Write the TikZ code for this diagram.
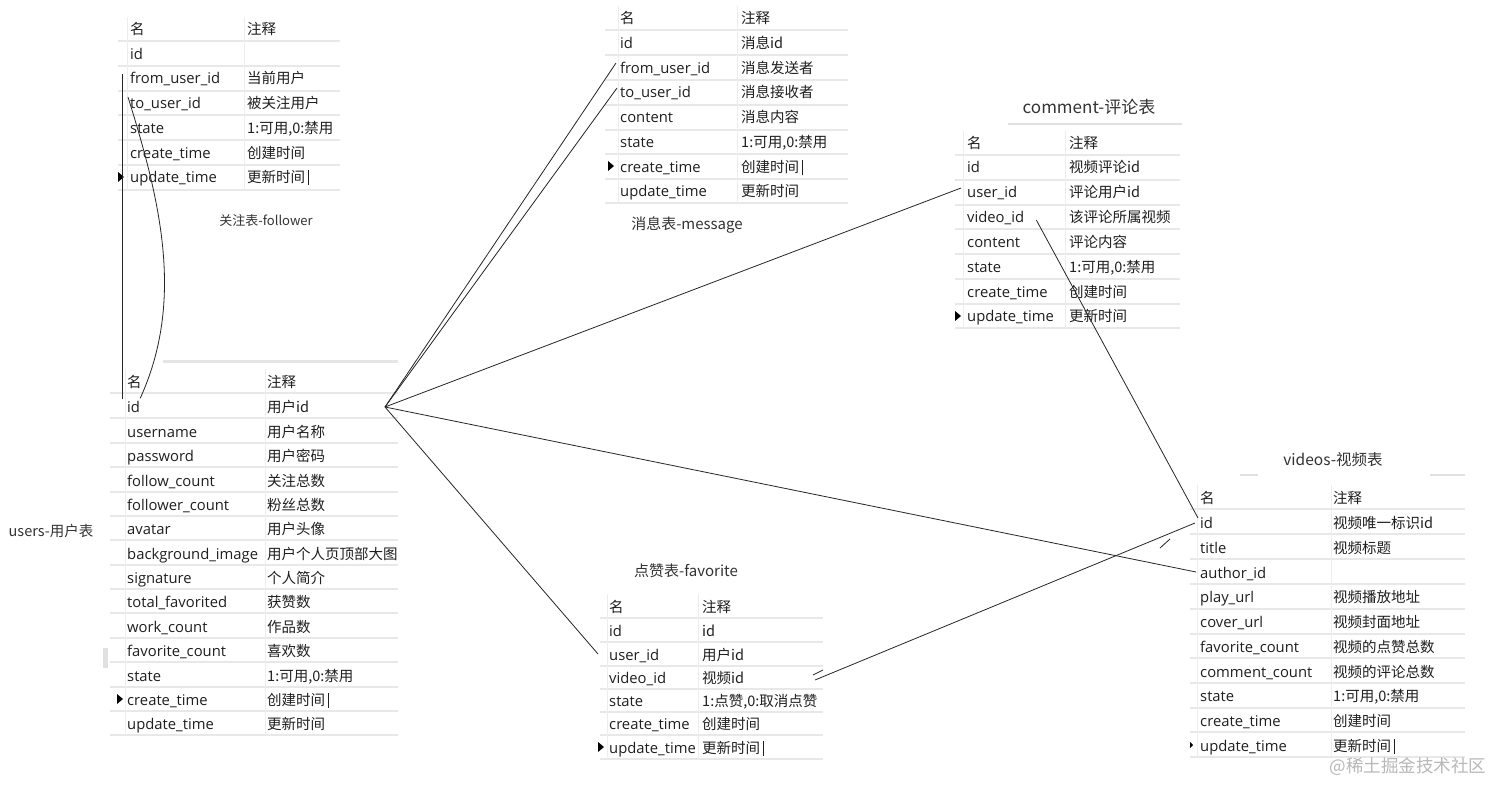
\documentclass[tikz,border=0pt]{standalone}
\usepackage{fontspec}
\setmainfont{Noto Sans CJK SC}
\newfontfamily\latinf{Open Sans}
\newcommand\tcur{\,\rule[-2.5pt]{0.9pt}{15pt}}
\begin{document}
\begin{tikzpicture}[x=1pt,y=-1pt,
  cell/.style={anchor=west,inner sep=0pt,text height=12.5pt,text depth=0.5pt,font=\fontsize{14.5}{16}\selectfont,text=black!88},
  fld/.style={cell,font=\latinf\fontsize{14.8}{16}\selectfont},
  ttl/.style={inner sep=0pt,text=black!80},
  rowline/.style={draw=black!9,line width=1.2pt},
  colline/.style={draw=black!7,line width=1pt},
  link/.style={draw=black!85,line width=0.8pt}]
\fill[white] (0,0) rectangle (1512,799);
\useasboundingbox (0,0) rectangle (1512,799);

\foreach \y in {41,66,91,115,140,165,190} \draw[rowline] (118,\y) -- (340,\y);
\draw[colline] (127,17) -- (127,190);
\draw[colline] (244,17) -- (244,190);
\foreach \y in {30,55,80,105,130,154,179,203} \draw[rowline] (605,\y) -- (848,\y);
\draw[colline] (618,6) -- (618,203);
\draw[colline] (737,6) -- (737,203);
\foreach \y in {155,180,205,229,254,279,304,328} \draw[rowline] (955,\y) -- (1180,\y);
\draw[colline] (963,131) -- (963,328);
\draw[colline] (1065,131) -- (1065,328);
\foreach \y in {393,418,443,467,492,516,540,565,589,613,638,662,687,711,735} \draw[rowline] (110,\y) -- (398,\y);
\draw[colline] (125,369) -- (125,735);
\draw[colline] (265,369) -- (265,735);
\foreach \y in {618,642,666,689,712,735,759} \draw[rowline] (600,\y) -- (823,\y);
\draw[colline] (607,594) -- (607,759);
\draw[colline] (698,594) -- (698,759);
\foreach \y in {509,534,559,584,609,634,658,683,708,732,757} \draw[rowline] (1190,\y) -- (1465,\y);
\draw[colline] (1197,485) -- (1197,757);
\draw[colline] (1331,485) -- (1331,757);

\draw[black!12,line width=2pt] (1008,124) -- (1182,124);
\draw[black!10,line width=3pt] (163,362) -- (398,362);
\draw[black!12,line width=2pt] (1240,475) -- (1258,475);
\draw[black!12,line width=2pt] (1430,475) -- (1465,475);
\fill[black!12] (103,648) rectangle (108,668);

\node[cell] (f0n) at (130,29) {名};
\node[cell] (f0c) at (247,29) {注释};
\node[fld] (f1n) at (130,54) {id};
\node[fld] (f2n) at (130,78) {from\_user\_id};
\node[cell] (f2c) at (247,78) {当前用户};
\node[fld] (f3n) at (130,103) {to\_user\_id};
\node[cell] (f3c) at (247,103) {被关注用户};
\node[fld] (f4n) at (130,128) {state};
\node[cell] (f4c) at (247,128) {1:可用,0:禁用};
\node[fld] (f5n) at (130,153) {create\_time};
\node[cell] (f5c) at (247,153) {创建时间};
\node[fld] (f6n) at (130,177) {update\_time};
\node[cell] (f6c) at (247,177) {更新时间\tcur};
\node[ttl,font=\fontsize{13}{15}\selectfont] (ftitle) at (266,221) {关注表-follower};

\node[cell] (m0n) at (620,18) {名};
\node[cell] (m0c) at (741,18) {注释};
\node[fld] (m1n) at (620,43) {id};
\node[cell] (m1c) at (741,43) {消息id};
\node[fld] (m2n) at (620,68) {from\_user\_id};
\node[cell] (m2c) at (741,68) {消息发送者};
\node[fld] (m3n) at (620,92) {to\_user\_id};
\node[cell] (m3c) at (741,92) {消息接收者};
\node[fld] (m4n) at (620,117) {content};
\node[cell] (m4c) at (741,117) {消息内容};
\node[fld] (m5n) at (620,142) {state};
\node[cell] (m5c) at (741,142) {1:可用,0:禁用};
\node[fld] (m6n) at (620,167) {create\_time};
\node[cell] (m6c) at (741,167) {创建时间\tcur};
\node[fld] (m7n) at (620,191) {update\_time};
\node[cell] (m7c) at (741,191) {更新时间};
\node[ttl,font=\fontsize{15}{17}\selectfont] (mtitle) at (687,225) {消息表-message};

\node[ttl,font=\fontsize{17}{19}\selectfont] (ctitle) at (1089,107) {comment-评论表};
\node[cell] (c0n) at (967,143) {名};
\node[cell] (c0c) at (1069,143) {注释};
\node[fld] (c1n) at (967,167) {id};
\node[cell] (c1c) at (1069,167) {视频评论id};
\node[fld] (c2n) at (967,192) {user\_id};
\node[cell] (c2c) at (1069,192) {评论用户id};
\node[fld] (c3n) at (967,217) {video\_id};
\node[cell] (c3c) at (1069,217) {该评论所属视频};
\node[fld] (c4n) at (967,242) {content};
\node[cell] (c4c) at (1069,242) {评论内容};
\node[fld] (c5n) at (967,267) {state};
\node[cell] (c5c) at (1069,267) {1:可用,0:禁用};
\node[fld] (c6n) at (967,292) {create\_time};
\node[cell] (c6c) at (1069,292) {创建时间};
\node[fld] (c7n) at (967,316) {update\_time};
\node[cell] (c7c) at (1069,316) {更新时间};

\node[ttl,font=\fontsize{14.5}{16}\selectfont] (utitle) at (51,531) {users-用户表};
\node[cell] (u0n) at (127,381) {名};
\node[cell] (u0c) at (267,381) {注释};
\node[fld] (u1n) at (127,406) {id};
\node[cell] (u1c) at (267,406) {用户id};
\node[fld] (u2n) at (127,431) {username};
\node[cell] (u2c) at (267,431) {用户名称};
\node[fld] (u3n) at (127,455) {password};
\node[cell] (u3c) at (267,455) {用户密码};
\node[fld] (u4n) at (127,480) {follow\_count};
\node[cell] (u4c) at (267,480) {关注总数};
\node[fld] (u5n) at (127,504) {follower\_count};
\node[cell] (u5c) at (267,504) {粉丝总数};
\node[fld] (u6n) at (127,528) {avatar};
\node[cell] (u6c) at (267,528) {用户头像};
\node[fld] (u7n) at (127,553) {background\_image};
\node[cell] (u7c) at (267,553) {用户个人页顶部大图};
\node[fld] (u8n) at (127,577) {signature};
\node[cell] (u8c) at (267,577) {个人简介};
\node[fld] (u9n) at (127,601) {total\_favorited};
\node[cell] (u9c) at (267,601) {获赞数};
\node[fld] (u10n) at (127,626) {work\_count};
\node[cell] (u10c) at (267,626) {作品数};
\node[fld] (u11n) at (127,650) {favorite\_count};
\node[cell] (u11c) at (267,650) {喜欢数};
\node[fld] (u12n) at (127,675) {state};
\node[cell] (u12c) at (267,675) {1:可用,0:禁用};
\node[fld] (u13n) at (127,699) {create\_time};
\node[cell] (u13c) at (267,699) {创建时间\tcur};
\node[fld] (u14n) at (127,723) {update\_time};
\node[cell] (u14c) at (267,723) {更新时间};

\node[ttl,font=\fontsize{15}{17}\selectfont] (ltitle) at (686,571) {点赞表-favorite};
\node[cell] (l0n) at (609,606) {名};
\node[cell] (l0c) at (702,606) {注释};
\node[fld] (l1n) at (609,630) {id};
\node[cell] (l1c) at (702,630) {id};
\node[fld] (l2n) at (609,654) {user\_id};
\node[cell] (l2c) at (702,654) {用户id};
\node[fld] (l3n) at (609,677) {video\_id};
\node[cell] (l3c) at (702,677) {视频id};
\node[fld] (l4n) at (609,700) {state};
\node[cell] (l4c) at (702,700) {1:点赞,0:取消点赞};
\node[fld] (l5n) at (609,723) {create\_time};
\node[cell] (l5c) at (702,723) {创建时间};
\node[fld] (l6n) at (609,747) {update\_time};
\node[cell] (l6c) at (702,747) {更新时间\tcur};

\node[ttl,font=\fontsize{15.5}{17}\selectfont] (vtitle) at (1333,460) {videos-视频表};
\node[cell] (v0n) at (1200,497) {名};
\node[cell] (v0c) at (1333,497) {注释};
\node[fld] (v1n) at (1200,522) {id};
\node[cell] (v1c) at (1333,522) {视频唯一标识id};
\node[fld] (v2n) at (1200,547) {title};
\node[cell] (v2c) at (1333,547) {视频标题};
\node[fld] (v3n) at (1200,572) {author\_id};
\node[fld] (v4n) at (1200,596) {play\_url};
\node[cell] (v4c) at (1333,596) {视频播放地址};
\node[fld] (v5n) at (1200,621) {cover\_url};
\node[cell] (v5c) at (1333,621) {视频封面地址};
\node[fld] (v6n) at (1200,646) {favorite\_count};
\node[cell] (v6c) at (1333,646) {视频的点赞总数};
\node[fld] (v7n) at (1200,671) {comment\_count};
\node[cell] (v7c) at (1333,671) {视频的评论总数};
\node[fld] (v8n) at (1200,695) {state};
\node[cell] (v8c) at (1333,695) {1:可用,0:禁用};
\node[fld] (v9n) at (1200,720) {create\_time};
\node[cell] (v9c) at (1333,720) {创建时间};
\node[fld] (v10n) at (1200,745) {update\_time};
\node[cell] (v10c) at (1333,745) {更新时间\tcur};

\node[ttl,font=\fontsize{17.5}{19}\selectfont,text=black!28] (wmark) at (1408,767) {@稀土掘金技术社区};

\fill (118,172) -- ++(6,5) -- ++(-6,5) -- cycle;
\fill (608,161) -- ++(6,5) -- ++(-6,5) -- cycle;
\fill (955,311) -- ++(6,5) -- ++(-6,5) -- cycle;
\fill (117,694) -- ++(6,5) -- ++(-6,5) -- cycle;
\fill (598,742) -- ++(6,5) -- ++(-6,5) -- cycle;
\fill (1190,742) -- ++(3,3) -- ++(-3,3) -- cycle;

\coordinate (uhub) at (385,407);
\coordinate (lvend) at (815,680);
\draw[link] ([xshift=-8pt,yshift=4pt]f2n.west) -- ([xshift=-5pt,yshift=7pt]u1n.west);
\draw[link] ([xshift=-2pt,yshift=6pt]f3n.west) .. controls (160,200) and (185,300) .. ([yshift=1pt]u1n.north east);
\draw[link] (uhub) -- ([xshift=-4pt,yshift=5pt]m2n.west);
\draw[link] (uhub) -- ([xshift=-3pt,yshift=4pt]m3n.west);
\draw[link] (uhub) -- ([xshift=-6pt,yshift=4pt]c2n.west);
\draw[link] (uhub) -- ([xshift=-4pt]v3n.west);
\draw[link] (uhub) -- ([xshift=-11pt]l2n.west);
\draw[link] (lvend) -- ([xshift=-5pt,yshift=-1pt]v1n.west);
\draw[link] (813,675) -- (823,670);
\draw[link] (1160,548) -- (1170,539);
\draw[link] ([xshift=12pt,yshift=-3pt]c3n.east) -- ([xshift=-2pt,yshift=4pt]v1n.west);
\end{tikzpicture}
\end{document}
